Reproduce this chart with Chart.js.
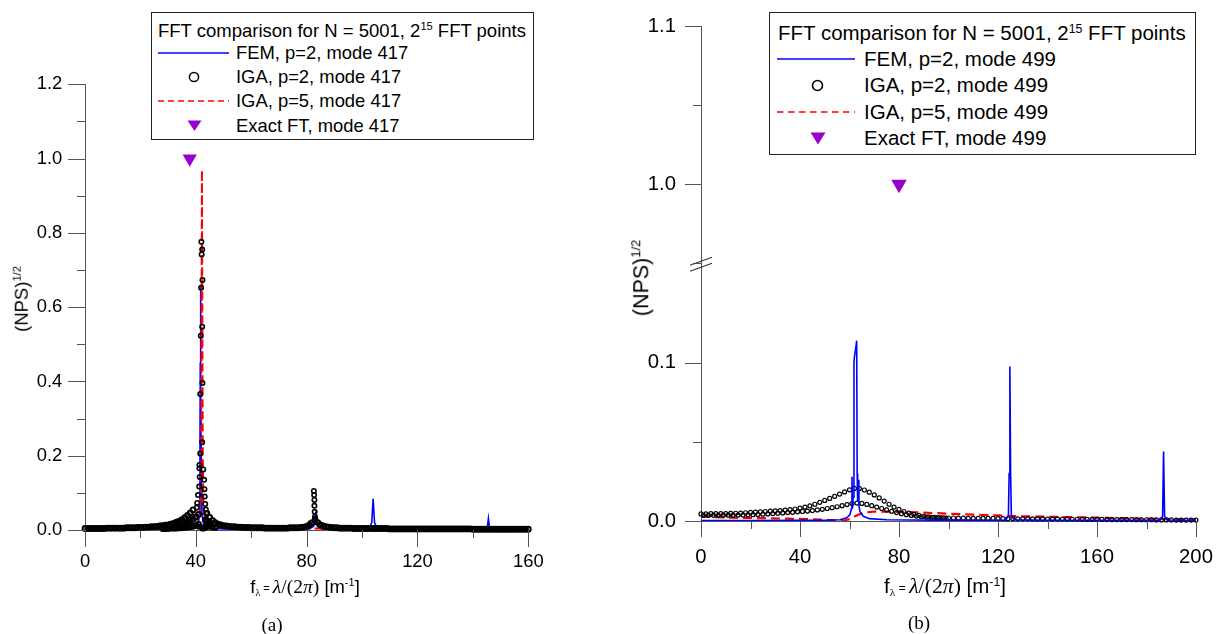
<!DOCTYPE html>
<html>
<head>
<meta charset="utf-8">
<script src="https://cdn.jsdelivr.net/npm/chart.js"></script>
<style>
  body { margin:0; position:relative; width:1220px; height:634px; overflow:hidden; background:#fff;
         font-family:"Liberation Sans", Arial, sans-serif; color:#000; }
  canvas { position:absolute; top:0; }
  #cA { left:0; }
  #cB { left:600px; }
  .t { position:absolute; white-space:nowrap; line-height:1; }
  .t sup { font-size:0.6em; vertical-align:0.6em; line-height:0; }
  .box { position:absolute; border:1.3px solid #222; background:#fff; box-sizing:border-box; }
  .mk { position:absolute; overflow:visible; }
  .xt .sub { font-family:"Liberation Serif", serif; font-size:0.55em; vertical-align:-0.25em; }
  .xt .eq { font-size:0.6em; vertical-align:0.1em; }
  .xt .ser { font-family:"Liberation Serif", serif; font-size:1.06em; }
  .yt { transform:translate(-50%,-50%) rotate(-90deg); }
  .cap { font-family:"Liberation Serif", serif; transform:translateX(-50%); }
</style>
</head>
<body>
<canvas id="cA" width="600" height="634"></canvas>
<canvas id="cB" width="620" height="634"></canvas>

<!-- legend (a) -->
<div class="box" style="left:151px; top:12px; width:383px; height:128px;"></div>
<div class="t" style="left:158px; top:22px; font-size:18.5px;">FFT comparison for N = 5001, 2<sup>15</sup> FFT points</div>
<svg class="mk" style="left:158px; top:50px;" width="71" height="6"><line x1="0" y1="3" x2="71" y2="3" stroke="#0000ff" stroke-width="1.4"/></svg>
<svg class="mk" style="left:187px; top:70px;" width="14" height="14"><circle cx="7" cy="7" r="4.6" fill="none" stroke="#000" stroke-width="1.5"/></svg>
<svg class="mk" style="left:158px; top:98px;" width="71" height="6"><line x1="0" y1="3" x2="71" y2="3" stroke="#ff0000" stroke-width="1.4" stroke-dasharray="6,4"/></svg>
<svg class="mk" style="left:187px; top:120px;" width="15" height="12"><polygon points="0.5,0.5 14.5,0.5 7.5,11" fill="#9900cc"/></svg>
<div class="t" style="left:236px; top:43.7px; font-size:18.4px;">FEM, p=2, mode 417</div>
<div class="t" style="left:236px; top:68px; font-size:18.4px;">IGA, p=2, mode 417</div>
<div class="t" style="left:236px; top:92.3px; font-size:18.4px;">IGA, p=5, mode 417</div>
<div class="t" style="left:236px; top:116.6px; font-size:18.4px;">Exact FT, mode 417</div>

<!-- legend (b) -->
<div class="box" style="left:769px; top:12px; width:427px; height:143px;"></div>
<div class="t" style="left:778px; top:23.3px; font-size:20.5px;">FFT comparison for N = 5001, 2<sup>15</sup> FFT points</div>
<svg class="mk" style="left:777px; top:55.8px;" width="78" height="6"><line x1="0" y1="3" x2="78" y2="3" stroke="#0000ff" stroke-width="1.5"/></svg>
<svg class="mk" style="left:810px; top:78px;" width="15" height="15"><circle cx="7.5" cy="7.5" r="5" fill="none" stroke="#000" stroke-width="1.6"/></svg>
<svg class="mk" style="left:777px; top:108.8px;" width="78" height="6"><line x1="0" y1="3" x2="78" y2="3" stroke="#ff0000" stroke-width="1.5" stroke-dasharray="6.5,4.5"/></svg>
<svg class="mk" style="left:810px; top:132px;" width="16" height="13"><polygon points="0.5,0.5 15.5,0.5 8,12.5" fill="#9900cc"/></svg>
<div class="t" style="left:864px; top:48.8px; font-size:20.5px;">FEM, p=2, mode 499</div>
<div class="t" style="left:864px; top:75.3px; font-size:20.5px;">IGA, p=2, mode 499</div>
<div class="t" style="left:864px; top:101.8px; font-size:20.5px;">IGA, p=5, mode 499</div>
<div class="t" style="left:864px; top:128.3px; font-size:20.5px;">Exact FT, mode 499</div>

<!-- axis titles and captions -->
<div class="t yt" style="left:22px; top:299px; font-size:18.5px;">(NPS)<sup>1/2</sup></div>
<div class="t yt" style="left:642px; top:278px; font-size:21.5px;">(NPS)<sup>1/2</sup></div>
<div class="t xt" style="left:305px; top:577px; font-size:18.4px; transform:translateX(-50%);">f<span class="sub">λ</span><span class="eq"> = </span><span class="ser"><i>λ</i>/(2<i>π</i>)</span> [m<sup>-1</sup>]</div>
<div class="t xt" style="left:945px; top:576px; font-size:20.5px; transform:translateX(-50%);">f<span class="sub">λ</span><span class="eq"> = </span><span class="ser"><i>λ</i>/(2<i>π</i>)</span> [m<sup>-1</sup>]</div>
<div class="t cap" style="left:272px; top:615px; font-size:19px;">(a)</div>
<div class="t cap" style="left:919px; top:612.5px; font-size:19px;">(b)</div>

<script>
// ---------- panel (a): mode 417 ----------
const ticksAx = [0, 40, 80, 120, 160];
const minorAx = [20, 60, 100, 140];
const ticksAy = [0, 0.2, 0.4, 0.6, 0.8, 1.0, 1.2];
const minorAy = [0.1, 0.3, 0.5, 0.7, 0.9, 1.1];

// FEM p=2 (blue line)
const femAx = [0, 10, 20, 30, 35, 38, 40, 41, 41.3, 41.5, 41.6, 41.7, 41.8, 42.0, 42.2, 42.5, 43, 44, 46, 50,
  60, 70, 78, 81, 82.5, 83, 83.3, 83.6, 84, 85.5, 90, 100, 102.5, 103.5, 104.0, 104.5, 105.5, 107, 120, 144,
  145.2, 145.6, 146.0, 147, 160];
const femAy = [0.002, 0.002, 0.002, 0.003, 0.004, 0.006, 0.01, 0.02, 0.05, 0.2, 0.45, 0.655, 0.4, 0.12, 0.05, 0.025, 0.012, 0.006, 0.004, 0.003,
  0.002, 0.002, 0.002, 0.003, 0.01, 0.03, 0.05, 0.02, 0.008, 0.003, 0.002, 0.002, 0.003, 0.02, 0.084, 0.02, 0.004, 0.002, 0.002, 0.002,
  0.008, 0.031, 0.006, 0.002, 0.002];

// IGA p=5 (red dashed)
const igaA5x = [0, 20, 30, 36, 39, 40.5, 41.5, 41.9, 42.05, 42.2, 42.35, 42.5, 42.7, 43, 43.3, 43.6, 44, 44.5, 45.5, 47,
  50, 60, 70, 78, 80, 80.7, 81.3, 82.5, 90, 120, 160];
const igaA5y = [0.002, 0.002, 0.003, 0.005, 0.01, 0.02, 0.04, 0.1, 0.5, 0.969, 0.6, 0.2, 0.08, 0.05, 0.012, 0.045, 0.01, 0.03, 0.02, 0.01,
  0.006, 0.004, 0.003, 0.003, 0.006, 0.02, 0.008, 0.004, 0.002, 0.002, 0.002];

// IGA p=2 (black circles)
const bandA1x = [0, 1, 2, 3, 4, 5, 6, 7, 8, 9, 10, 11, 12, 13, 14, 15, 16, 17, 18, 19,
  20, 21, 22, 23, 24, 25, 26, 27, 28, 29, 30, 31, 32, 33, 34, 35, 36, 37, 38, 39];
const bandA1y = [0.004, 0.004, 0.004, 0.004, 0.004, 0.004, 0.004, 0.004, 0.005, 0.005,
  0.005, 0.005, 0.005, 0.005, 0.005, 0.006, 0.006, 0.006, 0.006, 0.007,
  0.007, 0.007, 0.008, 0.008, 0.009, 0.009, 0.010, 0.011, 0.012, 0.013,
  0.014, 0.016, 0.018, 0.021, 0.024, 0.028, 0.033, 0.039, 0.046, 0.054];
const lowAx = [28, 29, 30, 31, 32, 33, 34, 35, 36, 37, 38, 39, 40, 41, 42.5, 43, 43.5, 44, 44.5, 45, 46, 47];
const lowAy = [0.004, 0.004, 0.004, 0.005, 0.005, 0.005, 0.006, 0.006, 0.007, 0.008, 0.009, 0.01, 0.012, 0.015,
  0.005, 0.006, 0.008, 0.01, 0.012, 0.01, 0.008, 0.007];
const midAx = [34, 35, 36, 37, 38, 39, 40, 41, 43.5, 44, 45];
const midAy = [0.012, 0.015, 0.018, 0.021, 0.025, 0.029, 0.035, 0.042, 0.028, 0.024, 0.019];
const peakAx = [40.3, 40.5, 40.8, 41.0, 41.2, 41.3, 41.3, 41.4, 41.6, 41.6, 41.8, 41.9, 42.0, 42.1, 42.3, 42.3, 42.3, 42.4, 42.4, 42.7,
  43.0, 43.1, 43.2, 43.4, 43.6, 43.8, 82.6, 82.7, 82.8, 82.8, 82.9, 83.0, 83.1];
const peakAy = [0.06, 0.073, 0.094, 0.009, 0.117, 0.166, 0.175, 0.143, 0.206, 0.366, 0.523, 0.652, 0.776, 0.742, 0.755, 0.547, 0.236, 0.673, 0.396, 0.163,
  0.135, 0.11, 0.09, 0.07, 0.055, 0.045, 0.105, 0.094, 0.081, 0.065, 0.049, 0.036, 0.03];
const bandA2x = [44, 45, 46, 47, 48, 49, 50, 51, 52, 53, 54, 55, 56, 57, 58, 59, 60, 61, 62, 63,
  64, 65, 66, 67, 68, 69, 70, 71, 72, 73, 74, 75, 76, 77, 78, 79, 80, 81, 82, 83,
  84, 85, 86, 87, 88, 89, 90, 91, 92, 93, 94, 95, 96, 97, 98, 99, 100, 101, 102, 103,
  104, 105, 106, 107, 108, 109, 110, 111, 112, 113, 114, 115, 116, 117, 118, 119, 120, 121, 122, 123,
  124, 125, 126, 127, 128, 129, 130, 131, 132, 133, 134, 135, 136, 137, 138, 139, 140, 141, 142, 143,
  144, 145, 146, 147, 148, 149, 150, 151, 152, 153, 154, 155, 156, 157, 158, 159, 160];
const bandA2y = [0.045, 0.034, 0.026, 0.020, 0.016, 0.014, 0.012, 0.011, 0.010, 0.009,
  0.009, 0.008, 0.008, 0.007, 0.007, 0.007, 0.006, 0.006, 0.006, 0.006,
  0.006, 0.005, 0.005, 0.005, 0.005, 0.005, 0.005, 0.005, 0.005, 0.005,
  0.006, 0.006, 0.006, 0.006, 0.007, 0.008, 0.010, 0.014, 0.020, 0.025,
  0.020, 0.014, 0.011, 0.009, 0.008, 0.007, 0.006, 0.006, 0.005, 0.005,
  0.005, 0.005, 0.005, 0.004, 0.004, 0.004, 0.004, 0.004, 0.004, 0.004,
  0.004, 0.004, 0.004, 0.004, 0.004, 0.004, 0.003, 0.003, 0.003, 0.003,
  0.003, 0.003, 0.003, 0.003, 0.003, 0.003, 0.003, 0.003, 0.003, 0.003,
  0.003, 0.003, 0.003, 0.003, 0.003, 0.003, 0.003, 0.003, 0.003, 0.003,
  0.003, 0.003, 0.003, 0.003, 0.003, 0.003, 0.002, 0.002, 0.002, 0.002,
  0.002, 0.002, 0.002, 0.002, 0.002, 0.002, 0.002, 0.002, 0.002, 0.002,
  0.002, 0.002, 0.002, 0.002, 0.002, 0.002, 0.002];

// exact FT (purple triangle)
const exactAx = [37.8];
const exactAy = [1.0];

// ---------- panel (b): mode 499 ----------
const ticksBx = [0, 40, 80, 120, 160, 200];
const minorBx = [20, 60, 100, 140, 180];
const ticksBlow = [0, 0.1];
const minorBlow = [0.05];
const ticksBup = [1.0, 1.1];
const minorBup = [0.95, 1.05];

const femBx = [0, 20, 40, 50, 56.2, 58.9, 60.2, 60.8, 61.0, 61.2, 61.5, 61.8, 62.0, 62.5, 62.9, 63.1, 63.3, 63.6, 63.8, 64.2,
  65.6, 68, 75, 100, 123, 124.2, 124.5, 124.8, 125.1, 125.4, 126.5, 140, 185.5, 186.5, 186.9, 187.3, 188.2, 200];
const femBy = [0.0003, 0.0003, 0.0004, 0.0005, 0.0008, 0.002, 0.004, 0.008, 0.028, 0.008, 0.015, 0.1, 0.104, 0.109, 0.114, 0.03, 0.012, 0.026, 0.01, 0.006,
  0.003, 0.0015, 0.0008, 0.0004, 0.0005, 0.003, 0.03, 0.0977, 0.03, 0.003, 0.0008, 0.0004, 0.0004, 0.003, 0.044, 0.003, 0.0006, 0.0004];

const igaB5x = [0, 5, 15, 25, 35, 45, 52, 56, 58, 60, 62, 64, 66, 70, 80, 90, 100, 110, 120, 130,
  140, 150, 160, 170, 180, 190, 200];
const igaB5y = [0.0027, 0.0025, 0.002, 0.0018, 0.0015, 0.0011, 0.0006, 0.0002, 0.0003, 0.0012, 0.0028, 0.0042, 0.0052, 0.006, 0.0058, 0.0053, 0.0046, 0.004, 0.0035, 0.003,
  0.0027, 0.0024, 0.0021, 0.0018, 0.0015, 0.0012, 0.001];

const upBx = [0, 2, 4, 6, 8, 10, 12, 14, 16, 18, 20, 22, 24, 26, 28, 30, 32, 34, 36, 38,
  40, 42, 44, 46, 48, 50, 52, 54, 56, 58, 60, 62, 64, 66, 68, 70, 72, 74, 76, 78,
  80, 82, 84, 86, 88, 90, 92, 94, 96, 98, 100];
const upBy = [0.0045, 0.0045, 0.0046, 0.0046, 0.0047, 0.0047, 0.0048, 0.0049, 0.005, 0.0052,
  0.0054, 0.0056, 0.0058, 0.006, 0.0062, 0.0064, 0.0066, 0.0069, 0.0072, 0.0076,
  0.0082, 0.0088, 0.0096, 0.0106, 0.0118, 0.013, 0.0143, 0.0156, 0.017, 0.0184,
  0.0197, 0.0206, 0.0205, 0.0196, 0.0182, 0.0165, 0.0146, 0.0126, 0.0106, 0.0088,
  0.0073, 0.006, 0.005, 0.0042, 0.0035, 0.003, 0.0026, 0.0023, 0.0021, 0.002, 0.0019];
const lowBx = [1, 3, 5, 7, 9, 11, 13, 15, 17, 19, 21, 23, 25, 27, 29, 31, 33, 35, 37, 39,
  41, 43, 45, 47, 49, 51, 53, 55, 57, 59, 61, 63, 65, 67, 69, 71, 73, 75, 77, 79,
  81, 83, 85, 87, 89, 91, 93, 95, 97, 99];
const lowBy = [0.0036, 0.0036, 0.0036, 0.0036, 0.0036, 0.0037, 0.0037, 0.0038, 0.0038, 0.0039,
  0.004, 0.0041, 0.0043, 0.0045, 0.0047, 0.0049, 0.0051, 0.0053, 0.0055, 0.0058,
  0.006, 0.0063, 0.0066, 0.007, 0.0074, 0.0079, 0.0084, 0.009, 0.0097, 0.0104,
  0.011, 0.0113, 0.0111, 0.0105, 0.0097, 0.0088, 0.0079, 0.007, 0.0061, 0.0053,
  0.0046, 0.004, 0.0035, 0.0031, 0.0027, 0.0025, 0.0023, 0.0021, 0.002, 0.0019];
const tailBx = [102, 104, 106, 108, 110, 112, 114, 116, 118, 120, 122, 124, 126, 128, 130, 132, 134, 136, 138, 140,
  142, 144, 146, 148, 150, 152, 154, 156, 158, 160, 162, 164, 166, 168, 170, 172, 174, 176, 178, 180,
  182, 184, 186, 188, 190, 192, 194, 196, 198, 200];
const tailBy = [0.0019, 0.0018, 0.0018, 0.0017, 0.0017, 0.0016, 0.0016, 0.0016, 0.0016, 0.0015,
  0.0015, 0.0015, 0.0015, 0.0014, 0.0014, 0.0014, 0.0013, 0.0013, 0.0013, 0.0012,
  0.0012, 0.0012, 0.0012, 0.0011, 0.0011, 0.0011, 0.0011, 0.001, 0.001, 0.001,
  0.001, 0.001, 0.0009, 0.0009, 0.0009, 0.0009, 0.0009, 0.0008, 0.0008, 0.0008,
  0.0008, 0.0007, 0.0007, 0.0007, 0.0007, 0.0006, 0.0006, 0.0006, 0.0006, 0.0006];

const exactBx = [80];
const exactBy = [1.0];

// ---------- helpers ----------
const SANS = '"Liberation Sans", Arial, sans-serif';
const AXIS = '#555';
const NONE = 'rgba(0,0,0,0)';

function pts(xs, ys) { return xs.map((x, i) => ({ x: x, y: ys[i] })); }

// short/long tick marks + axis break, drawn through the chart scales
const tickMarks = {
  id: 'tickMarks',
  afterDraw(chart, args, opts) {
    const ctx = chart.ctx;
    ctx.save();
    ctx.strokeStyle = AXIS;
    ctx.lineWidth = 1;
    opts.list.forEach(t => {
      const s = chart.scales[t.id];
      [[t.major, t.len], [t.minor, t.len2]].forEach(([vals, len]) => {
        vals.forEach(v => {
          const p = Math.round(s.getPixelForValue(v)) + 0.5;
          ctx.beginPath();
          if (s.isHorizontal()) { ctx.moveTo(p, s.top); ctx.lineTo(p, s.top + len); }
          else { ctx.moveTo(s.right, p); ctx.lineTo(s.right - len, p); }
          ctx.stroke();
        });
      });
    });
    if (opts.brk) {
      const s = chart.scales[opts.brk];
      const x = s.right, yb = s.top;
      ctx.strokeStyle = '#333';
      ctx.lineWidth = 1.1;
      ctx.beginPath();
      ctx.moveTo(x - 11, yb - 1); ctx.lineTo(x + 11, yb - 9);
      ctx.moveTo(x - 11, yb + 5); ctx.lineTo(x + 11, yb - 3);
      ctx.stroke();
    }
    ctx.restore();
  }
};

// label offset goes through the (invisible) tick length so that it does not pad the chart area
function axisBase(size, gap) {
  return {
    type: 'linear',
    grid: { display: false, drawTicks: true, tickLength: gap, color: NONE, tickColor: NONE },
    border: { display: true, color: AXIS, width: 1 },
    ticks: { font: { family: SANS, size: size }, color: '#000', padding: 0, autoSkip: false, maxRotation: 0 }
  };
}

function circles(data, r, bw) {
  return { data: data, pointStyle: 'circle', pointRadius: r, pointBorderWidth: bw,
           pointBorderColor: '#000', pointBackgroundColor: NONE, showLine: false, clip: false };
}
function line(data, color, w, dash) {
  return { data: data, showLine: true, pointRadius: 0, borderColor: color, borderWidth: w,
           borderDash: dash || [], tension: 0, fill: false };
}
function tri(data, r, axisId) {
  const d = { data: data, pointStyle: 'triangle', pointRotation: 180, pointRadius: r, pointBorderWidth: 0,
              pointBackgroundColor: '#9900cc', pointBorderColor: '#9900cc', showLine: false, clip: false };
  if (axisId) d.yAxisID = axisId;
  return d;
}

const common = {
  responsive: false,
  animation: false,
  events: [],
  plugins: { legend: { display: false }, tooltip: { enabled: false } }
};

// ---------- chart (a) ----------
const xA = axisBase(18.4, 21);
Object.assign(xA, { min: 0, max: 160, position: 'bottom',
  afterBuildTicks: s => { s.ticks = ticksAx.map(v => ({ value: v })); },
  afterFit: s => { s.height = 104; } });
xA.ticks.callback = v => String(v);
const yA = axisBase(18.4, 22.7);
Object.assign(yA, { min: 0, max: 1.2, position: 'left',
  afterBuildTicks: s => { s.ticks = ticksAy.map(v => ({ value: v })); },
  afterFit: s => { s.width = 85; } });
yA.ticks.callback = v => v.toFixed(1);

new Chart(document.getElementById('cA'), {
  type: 'scatter',
  data: {
    datasets: [
      tri(pts(exactAx, exactAy), 8.2),
      circles(pts(peakAx, peakAy), 2.2, 1.6),
      circles([].concat(pts(bandA1x, bandA1y), pts(lowAx, lowAy), pts(midAx, midAy), pts(bandA2x, bandA2y)), 2.4, 2.0),
      line(pts(igaA5x, igaA5y), '#ff0000', 2, [8, 4]),
      line(pts(femAx, femAy), '#0000ff', 1.6)
    ]
  },
  options: Object.assign({}, common, {
    layout: { padding: { left: 0, top: 84.3, right: 71.7, bottom: 0 } },
    scales: { x: xA, y: yA },
    plugins: Object.assign({}, common.plugins, {
      tickMarks: { list: [
        { id: 'x', major: ticksAx, minor: minorAx, len: 17, len2: 8 },
        { id: 'y', major: ticksAy, minor: minorAy, len: 17, len2: 8 }
      ] }
    })
  }),
  plugins: [tickMarks]
});

// ---------- chart (b): broken y axis as two stacked scales ----------
const xB = axisBase(20.3, 24);
Object.assign(xB, { min: 0, max: 200, position: 'bottom',
  afterBuildTicks: s => { s.ticks = ticksBx.map(v => ({ value: v })); },
  afterFit: s => { s.height = 113; } });
xB.ticks.callback = v => String(v);
const yB = axisBase(20.3, 25);
Object.assign(yB, { min: 0, max: 0.161, position: 'left', stack: 'left', stackWeight: 254.7, weight: 1,
  afterBuildTicks: s => { s.ticks = ticksBlow.map(v => ({ value: v })); },
  afterFit: s => { s.width = 101; } });
yB.ticks.callback = v => v.toFixed(1);
const yBup = axisBase(20.3, 25);
Object.assign(yBup, { min: 0.948, max: 1.1, position: 'left', stack: 'left', stackWeight: 240, weight: 2,
  afterBuildTicks: s => { s.ticks = ticksBup.map(v => ({ value: v })); },
  afterFit: s => { s.width = 101; } });
yBup.ticks.callback = v => v.toFixed(1);

new Chart(document.getElementById('cB'), {
  type: 'scatter',
  data: {
    datasets: [
      tri(pts(exactBx, exactBy), 9, 'yUp'),
      line(pts(femBx, femBy), '#0000ff', 1.6),
      circles([].concat(pts(upBx, upBy), pts(lowBx, lowBy), pts(tailBx, tailBy)), 2.0, 1.2),
      line(pts(igaB5x, igaB5y), '#ff0000', 2.2, [9, 5])
    ]
  },
  options: Object.assign({}, common, {
    layout: { padding: { left: 0, top: 26.3, right: 24, bottom: 0 } },
    scales: { x: xB, y: yB, yUp: yBup },
    plugins: Object.assign({}, common.plugins, {
      tickMarks: {
        list: [
          { id: 'x', major: ticksBx, minor: minorBx, len: 16, len2: 8 },
          { id: 'y', major: ticksBlow, minor: minorBlow, len: 16, len2: 8 },
          { id: 'yUp', major: ticksBup, minor: minorBup, len: 16, len2: 8 }
        ],
        brk: 'y'
      }
    })
  }),
  plugins: [tickMarks]
});
</script>
</body>
</html>
